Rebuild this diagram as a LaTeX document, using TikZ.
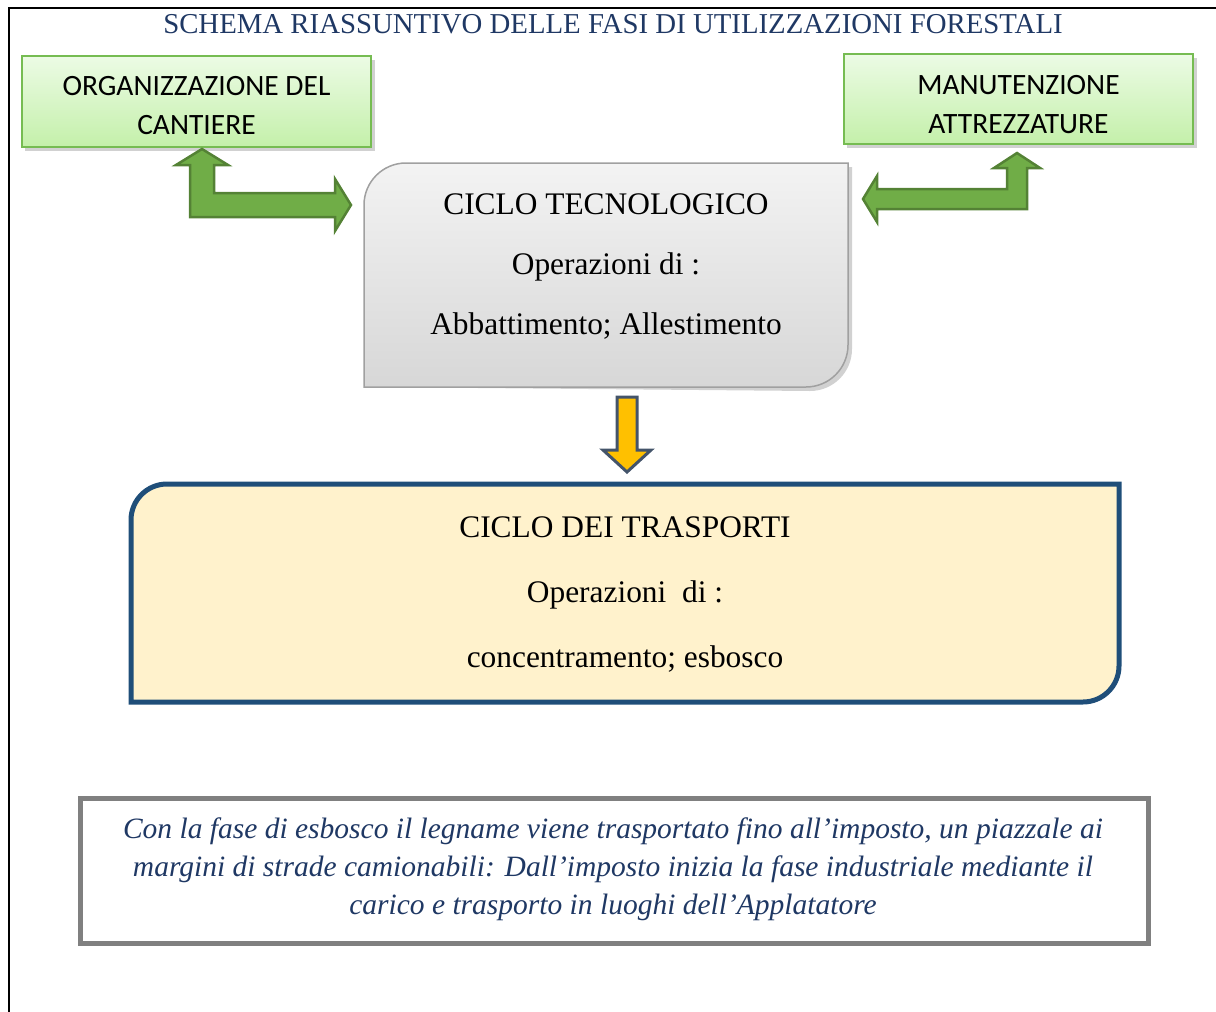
\documentclass[tikz,border=0pt]{standalone}
\usepackage{fontspec}
\setmainfont{Liberation Serif}
\newfontfamily\calib{Carlito}
\definecolor{navy}{RGB}{31,56,100}
\definecolor{gtop}{RGB}{236,251,229}
\definecolor{gbot}{RGB}{196,240,170}
\definecolor{gborder}{RGB}{118,188,82}
\definecolor{arrfill}{RGB}{112,173,71}
\definecolor{arrdraw}{RGB}{84,130,53}
\definecolor{graytop}{RGB}{243,243,243}
\definecolor{graybot}{RGB}{215,215,215}
\definecolor{grayborder}{RGB}{160,160,160}
\definecolor{yelfill}{RGB}{255,242,204}
\definecolor{yelborder}{RGB}{31,78,121}
\definecolor{gold}{RGB}{255,192,0}
\definecolor{slate}{RGB}{68,84,106}
\definecolor{boxgray}{RGB}{128,128,128}
\tikzset{
  greenbox/.style={draw=gborder, line width=1.5pt, top color=gtop, bottom color=gbot,
    minimum width=349pt, minimum height=91pt, inner sep=0pt},
  greentext/.style={align=center, font=\calib\fontsize{29.5}{39}\selectfont},
  bentarrow/.style={fill=arrfill, draw=arrdraw, line width=2.5pt, line join=miter},
  shadowfill/.style={fill=black, opacity=0.18},
  bigtext/.style={align=center, font=\fontsize{31.4}{60}\selectfont},
}
\begin{document}
\begin{tikzpicture}[x=1pt,y=-1pt]
\useasboundingbox (0,0) rectangle (1216,1012);
% outer frame
\draw[line width=2.5pt] (9,1012) -- (9,8) -- (1216,8);
% title
\node[text=navy, font=\fontsize{28.8}{32}\selectfont] (title) at (613,24) {SCHEMA RIASSUNTIVO DELLE FASI DI UTILIZZAZIONI FORESTALI};
% green boxes
\fill[shadowfill] (25,60) rectangle (375,151);
\node[greenbox] (org) at (196.5,101.5) {};
\node[greentext] (orgt) at (196.5,105.5) {ORGANIZZAZIONE DEL\\CANTIERE};
\fill[shadowfill] (847,58) rectangle (1197,148);
\node[greenbox, minimum height=90pt] (man) at (1018.5,99) {};
\node[greentext] (mant) at (1018.5,104.5) {MANUTENZIONE\\ATTREZZATURE};
% gray box
\fill[shadowfill] (368,387) -- (368,209) arc[start angle=180,end angle=270,radius=42] -- (852,167) -- (852,349) arc[start angle=0,end angle=90,radius=42] -- cycle;
\shade[top color=graytop, bottom color=graybot, draw=grayborder, line width=1.5pt]
  (364,387) -- (364,205) arc[start angle=180,end angle=270,radius=42] -- (848,163) -- (848,345) arc[start angle=0,end angle=90,radius=42] -- cycle;
\node[bigtext] (tec) at (606,267) {CICLO TECNOLOGICO\\Operazioni di :\\Abbattimento; Allestimento};
% yellow box
\filldraw[fill=yelfill, draw=yelborder, line width=5pt]
  (131,702) -- (131,520) arc[start angle=180,end angle=270,radius=36] -- (1119,484) -- (1119,666) arc[start angle=0,end angle=90,radius=36] -- cycle;
\node[align=center, font=\fontsize{31.4}{65}\selectfont] (tra) at (625,595) {CICLO DEI TRASPORTI\\Operazioni\ \ di :\\concentramento; esbosco};
% bottom note
\draw[draw=boxgray, line width=5pt, fill=white] (80,798) rectangle (1148,943);
\node[align=center, text=navy, font=\itshape\fontsize{29.5}{38}\selectfont] (note) at (613,869) {Con la fase di esbosco il legname viene trasportato fino all’imposto, un piazzale ai\\margini di strade camionabili: Dall’imposto inizia la fase industriale mediante il\\carico e trasporto in luoghi dell’Applatatore};
% bent arrows
\draw[bentarrow] (190,217) -- (190,165) -- (176,165) -- (202,149) -- (228,165) -- (214,165) -- (214,193) -- (335,193) -- (335,179) -- (351,205) -- (335,231) -- (335,217) -- cycle;
\draw[bentarrow] (1027,209) -- (1027,168) -- (1040,168) -- (1017,153) -- (994,168) -- (1007,168) -- (1007,189) -- (877,189) -- (877,176) -- (863,199) -- (877,222) -- (877,209) -- cycle;
% down arrow
\draw[fill=gold, draw=slate, line width=3pt, line join=miter] (617,397) -- (637,397) -- (637,450) -- (651,450) -- (627,472) -- (603,450) -- (617,450) -- cycle;
\end{tikzpicture}
\end{document}
